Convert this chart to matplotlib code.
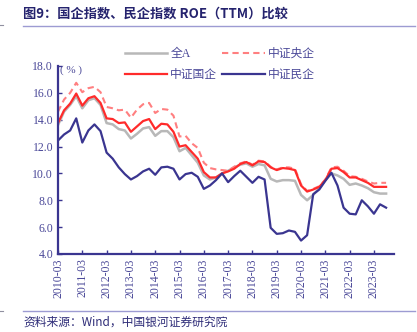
import numpy as np
import matplotlib
matplotlib.use("Agg")
import matplotlib.pyplot as plt
from matplotlib.lines import Line2D

plt.rcParams['font.family'] = ['Liberation Serif', 'Noto Sans CJK SC', 'DejaVu Sans']

# quarterly, 2010-03 .. 2023-09
quarters = ["%d-%02d" % (y, m) for y in range(2010, 2024) for m in (3, 6, 9, 12)][:55]
tick_labels = ["%d-03" % y for y in range(2010, 2024)]

all_a = [13.6, 14.6, 15.1, 15.75, 14.85, 15.45, 15.6, 15.1, 13.75, 13.65, 13.3, 13.2,
         12.6, 12.95, 13.35, 13.45, 12.8, 13.15, 13.15, 12.7, 11.65, 11.9, 11.35, 10.8,
         9.85, 9.55, 9.7, 10.0, 10.2, 10.45, 10.65, 10.75, 10.5, 10.7, 10.6, 9.6,
         9.4, 9.5, 9.5, 9.45, 8.4, 8.0, 8.4, 8.9, 9.5, 10.0, 9.85, 9.6,
         9.15, 9.25, 9.1, 8.9, 8.6, 8.5, 8.5]
soe_central = [14.6, 15.5, 16.0, 16.75, 16.05, 16.35, 16.45, 16.05, 14.95, 14.85, 14.7, 14.75,
               14.15, 14.75, 15.15, 15.25, 14.5, 14.8, 14.75, 14.3, 12.75, 12.8, 12.25, 11.9,
               10.8, 10.4, 10.3, 10.25, 10.2, 10.5, 10.75, 10.9, 10.65, 10.95, 10.9, 10.5,
               10.3, 10.45, 10.45, 10.35, 9.2, 8.7, 8.85, 9.05, 9.55, 10.45, 10.5, 10.2,
               9.8, 9.75, 9.6, 9.4, 9.25, 9.3, 9.3]
soe = [13.75, 14.7, 15.2, 15.95, 15.05, 15.6, 15.75, 15.25, 14.1, 14.05, 13.75, 13.8,
       13.1, 13.5, 13.9, 14.05, 13.3, 13.7, 13.65, 13.1, 12.0, 12.1, 11.6, 11.1,
       10.1, 9.7, 9.7, 10.0, 10.15, 10.35, 10.7, 10.85, 10.6, 10.9, 10.85, 10.45,
       10.25, 10.4, 10.35, 10.25, 9.1, 8.65, 8.8, 9.0, 9.5, 10.35, 10.4, 10.1,
       9.7, 9.7, 9.5, 9.3, 9.0, 9.0, 9.0]
private = [12.45, 12.9, 13.2, 14.1, 12.3, 13.2, 13.65, 13.15, 11.55, 11.1, 10.45, 9.95,
           9.55, 9.8, 10.15, 10.35, 9.9, 10.45, 10.5, 10.35, 9.55, 9.95, 10.05, 9.75,
           8.85, 9.1, 9.5, 10.0, 9.35, 9.8, 10.2, 9.75, 9.3, 9.75, 9.55, 5.95,
           5.5, 5.55, 5.75, 5.65, 5.0, 5.4, 8.45, 8.8, 9.45, 10.05, 9.1, 7.45,
           7.0, 6.95, 8.0, 7.55, 7.0, 7.7, 7.45]

navy = "#3a3590"
txt = "#4a4898"

fig = plt.figure(figsize=(4.17, 3.32), dpi=100)
ax = fig.add_axes([58 / 417, 78 / 332, 336 / 417, 188 / 332])

x = np.arange(len(quarters))
l_all, = ax.plot(x, all_a, color="#b8b8b8", lw=1.8, label="全A")
l_cen, = ax.plot(x, soe_central, color="#ff7f80", lw=1.5, ls=(0, (3, 2)), label="中证央企")
l_soe, = ax.plot(x, soe, color="#ff2b2b", lw=1.6, label="中证国企")
l_pri, = ax.plot(x, private, color=navy, lw=1.6, label="中证民企")

ax.set_xlim(0, 55.3)
ax.set_ylim(4, 18)
ax.set_yticks(np.arange(4, 18.1, 2))
ax.set_yticklabels(["%.1f" % v for v in np.arange(4, 18.1, 2)])
ax.set_xticks(np.arange(0, 53, 4))
ax.set_xticklabels(tick_labels, rotation=90)
ax.tick_params(direction="in", length=3, width=1, color=navy, labelcolor=txt, labelsize=8.5)
ax.tick_params(axis="x", pad=3)
for s in ("top", "right"):
    ax.spines[s].set_visible(False)
for s in ("left", "bottom"):
    ax.spines[s].set_color(navy)
    ax.spines[s].set_linewidth(1.6)
ax.text(0.4, 17.7, "( % )", color=txt, fontsize=8, va="center", ha="left")

# legend is filled column by column, so order it to read row by row
fig.legend([l_all, l_soe, l_cen, l_pri], ["全A", "中证国企", "中证央企", "中证民企"],
           loc="upper left", bbox_to_anchor=(119 / 417, 1 - 42 / 332), ncol=2, frameon=False,
           handlelength=3.6, columnspacing=0.4, labelspacing=0.75,
           handletextpad=0.25, borderpad=0, labelcolor=txt,
           prop={"family": ["Liberation Serif", "Noto Sans CJK SC"], "size": 8.5})

# title, rules, source
fig.text(23 / 417, 1 - 14 / 332, "图9：国企指数、民企指数 ROE（TTM）比较", color="#25236e",
         fontsize=9.5, fontweight="bold", va="center", ha="left",
         family=["Noto Sans CJK SC"])
fig.add_artist(Line2D([23 / 417, 415 / 417], [1 - 26 / 332] * 2, color="#9d9bd2", lw=1))
fig.add_artist(Line2D([23 / 417, 415 / 417], [1 - 311 / 332] * 2, color="#9d9bd2", lw=1))
fig.add_artist(Line2D([0, 3 / 417], [1 - 25 / 332] * 2, color="#9090a0", lw=0.8))
fig.add_artist(Line2D([0, 3 / 417], [1 - 311 / 332] * 2, color="#9090a0", lw=0.8))
fig.text(23 / 417, 1 - 322 / 332, "资料来源：Wind，中国银河证券研究院", color="#2e2c78",
         fontsize=8.5, style="italic", va="center", ha="left",
         family=["Noto Sans CJK SC"])

fig.savefig("out.png", dpi=100)
